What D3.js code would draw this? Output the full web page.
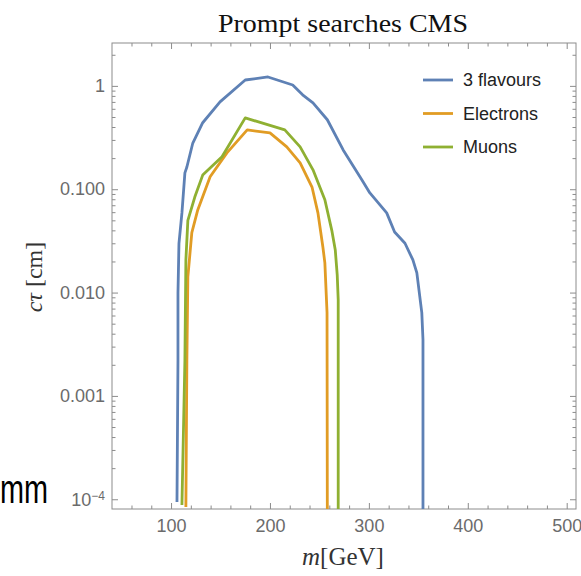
<!DOCTYPE html>
<html>
<head>
<meta charset="utf-8">
<script src="https://cdn.jsdelivr.net/npm/d3@7"></script>
<style>
  body { margin: 0; background: #fff; }
  text { font-family: "Liberation Sans", Arial, sans-serif; }
</style>
</head>
<body>
<svg id="chart" width="581" height="576"></svg>
<script>
// Prompt searches CMS - exclusion contours
var seriesNames = ["3 flavours", "Electrons", "Muons"];
var seriesColors = ["#5e81b5", "#e19c24", "#8fb032"];

var flavourMass = [106, 107, 107, 108, 111, 114, 116, 122, 132, 149.5, 175, 198, 223, 233, 243.5, 258, 274, 293, 301, 318, 326, 336.5, 344.5, 348.5, 353.5, 354.7, 354.7];
var flavourCtau = [9.4e-5, 0.0022, 0.0099, 0.030, 0.059, 0.144, 0.164, 0.28, 0.44, 0.70, 1.14, 1.22, 1.02, 0.82, 0.685, 0.47, 0.24, 0.123, 0.092, 0.059, 0.0386, 0.030, 0.0207, 0.0155, 0.0064, 0.0035, 7e-5];

var electronMass = [115, 116, 117, 121, 127, 139.5, 156.5, 177, 200, 217, 230.5, 242.5, 248.5, 253.5, 255.5, 257.7, 258];
var electronCtau = [8.4e-5, 0.0022, 0.0142, 0.038, 0.063, 0.132, 0.225, 0.375, 0.351, 0.257, 0.180, 0.105, 0.059, 0.0276, 0.0194, 0.0064, 7e-5];

var muonMass = [111, 114, 115, 117, 124, 132, 151.5, 175, 215, 230.5, 243.5, 255.5, 262.5, 266, 268, 269, 269];
var muonCtau = [8.8e-5, 0.0022, 0.0207, 0.050, 0.084, 0.137, 0.206, 0.49, 0.375, 0.257, 0.154, 0.079, 0.040, 0.026, 0.0148, 0.0085, 7e-5];

var xTicks = [100, 200, 300, 400, 500];
var xMinorTicks = [60, 80, 120, 140, 160, 180, 220, 240, 260, 280, 320, 340, 360, 380, 420, 440, 460, 480];
var yTicks = [1, 0.1, 0.01, 0.001, 1e-4];
var yTickLabels = ["1", "0.100", "0.010", "0.001", "10^-4"];

var svg = d3.select("#chart");
var plotLeft = 112, plotRight = 576, plotTop = 43, plotBottom = 509;

var x = d3.scaleLinear().domain([40.3, 509.4]).range([plotLeft, plotRight]);
var y = d3.scaleLog().domain([8.05e-5, 2.6]).range([plotBottom, plotTop]);

// minor log ticks
var yMinorTicks = [];
[1e-4, 1e-3, 1e-2, 1e-1, 1].forEach(function (d) {
  for (var k = 2; k <= 9; k++) {
    var v = d * k;
    if (v < 2.6) yMinorTicks.push(v);
  }
});

var axisColor = "#8c8c8c";
var labelColor = "#6b6b6b";

function styleAxis(g) {
  g.select(".domain").remove();
  g.selectAll("line").attr("stroke", axisColor).attr("stroke-width", 1);
  g.selectAll("text").attr("fill", labelColor).attr("font-size", 18);
}

// bottom
svg.append("g")
  .attr("transform", "translate(0," + plotBottom + ")")
  .call(d3.axisBottom(x).tickValues(xTicks).tickSize(-6).tickPadding(10).tickFormat(d3.format("d")))
  .call(styleAxis);
svg.append("g")
  .attr("transform", "translate(0," + plotBottom + ")")
  .call(d3.axisBottom(x).tickValues(xMinorTicks).tickSize(-3.5).tickFormat(""))
  .call(styleAxis);
// top
svg.append("g")
  .attr("transform", "translate(0," + plotTop + ")")
  .call(d3.axisTop(x).tickValues(xTicks).tickSize(-6).tickFormat(""))
  .call(styleAxis);
svg.append("g")
  .attr("transform", "translate(0," + plotTop + ")")
  .call(d3.axisTop(x).tickValues(xMinorTicks).tickSize(-3.5).tickFormat(""))
  .call(styleAxis);
// left
var yAxisG = svg.append("g")
  .attr("transform", "translate(" + plotLeft + ",0)")
  .call(d3.axisLeft(y).tickValues(yTicks).tickSize(-6).tickPadding(7)
    .tickFormat(function (d, i) { return yTickLabels[i]; }))
  .call(styleAxis);
yAxisG.selectAll("text").each(function (d, i) {
  var t = d3.select(this);
  if (yTickLabels[i] === "10^-4") {
    t.text("");
    t.append("tspan").text("10");
    t.append("tspan").attr("font-size", 12).attr("dy", "-0.45em").text("\u22124");
  }
});
svg.append("g")
  .attr("transform", "translate(" + plotLeft + ",0)")
  .call(d3.axisLeft(y).tickValues(yMinorTicks).tickSize(-3.5).tickFormat(""))
  .call(styleAxis);
// right
svg.append("g")
  .attr("transform", "translate(" + plotRight + ",0)")
  .call(d3.axisRight(y).tickValues(yTicks).tickSize(-6).tickFormat(""))
  .call(styleAxis);
svg.append("g")
  .attr("transform", "translate(" + plotRight + ",0)")
  .call(d3.axisRight(y).tickValues(yMinorTicks).tickSize(-3.5).tickFormat(""))
  .call(styleAxis);

// frame
svg.append("rect")
  .attr("x", plotLeft).attr("y", plotTop)
  .attr("width", plotRight - plotLeft).attr("height", plotBottom - plotTop)
  .attr("fill", "none").attr("stroke", axisColor).attr("stroke-width", 1);

// curves
svg.append("clipPath").attr("id", "plotclip")
  .append("rect").attr("x", plotLeft).attr("y", plotTop)
  .attr("width", plotRight - plotLeft).attr("height", plotBottom - plotTop);

var series = [
  { mass: flavourMass, ctau: flavourCtau },
  { mass: electronMass, ctau: electronCtau },
  { mass: muonMass, ctau: muonCtau }
];

var line = d3.line()
  .x(function (d) { return x(d[0]); })
  .y(function (d) { return y(d[1]); });

svg.append("g").attr("clip-path", "url(#plotclip)")
  .selectAll("path")
  .data(series)
  .enter()
  .append("path")
  .attr("d", function (s) { return line(d3.zip(s.mass, s.ctau)); })
  .attr("fill", "none")
  .attr("stroke", function (s, i) { return seriesColors[i]; })
  .attr("stroke-width", 2.8)
  .attr("stroke-linejoin", "round");

// legend
var legend = svg.append("g");
seriesNames.forEach(function (name, i) {
  var ly = 80 + i * 33.5;
  legend.append("line")
    .attr("x1", 423).attr("x2", 453).attr("y1", ly).attr("y2", ly)
    .attr("stroke", seriesColors[i]).attr("stroke-width", 2.8);
  legend.append("text")
    .attr("x", 463).attr("y", ly).attr("dy", "0.36em")
    .attr("font-size", 18).attr("fill", "#222")
    .text(name);
});

// title and axis labels
svg.append("text")
  .attr("x", 343).attr("y", 32)
  .attr("text-anchor", "middle")
  .attr("font-size", 26)
  .attr("textLength", 250).attr("lengthAdjust", "spacingAndGlyphs")
  .style("font-family", "'Liberation Serif', 'DejaVu Serif', serif")
  .attr("fill", "#111")
  .text("Prompt searches CMS");

var xl = svg.append("text")
  .attr("x", 343).attr("y", 565)
  .attr("text-anchor", "middle")
  .attr("font-size", 25)
  .style("font-family", "'Liberation Serif', 'DejaVu Serif', serif")
  .attr("fill", "#333");
xl.append("tspan").attr("font-style", "italic").text("m");
xl.append("tspan").text("[GeV]");

var yl = svg.append("text")
  .attr("transform", "translate(42,277) rotate(-90)")
  .attr("text-anchor", "middle")
  .attr("font-size", 24)
  .style("font-family", "'Liberation Serif', 'DejaVu Serif', serif")
  .attr("fill", "#333");
yl.append("tspan").attr("font-style", "italic").text("c\u03c4");
yl.append("tspan").text(" [cm]");

// stray text at left edge
svg.append("text")
  .attr("x", 0).attr("y", 503)
  .attr("font-size", 40)
  .attr("textLength", 48).attr("lengthAdjust", "spacingAndGlyphs")
  .attr("fill", "#000")
  .text("mm");
</script>
</body>
</html>
